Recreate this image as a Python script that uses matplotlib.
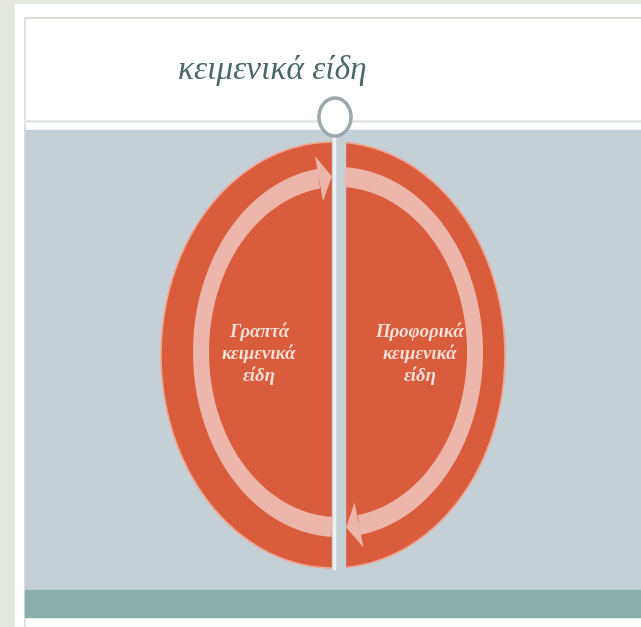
import matplotlib

matplotlib.use("Agg")
import matplotlib.pyplot as plt
import numpy as np
from matplotlib.patches import Ellipse, Polygon, Rectangle

# ── content ──────────────────────────────────────────────────────────────────
title = "κειμενικά είδη"
categories = ["Γραπτά\nκειμενικά\nείδη", "Προφορικά\nκειμενικά\nείδη"]

# ── colours ──────────────────────────────────────────────────────────────────
_PAGE = "#e4e8df"
_PANEL = "#c5d0d6"
_BAND = "#8aafab"
_RED = "#d95d3d"
_RING = "#ecb6aa"
_TITLE = "#4a6868"
_LABEL = "#f7e2da"

W, H = 641, 627
fig = plt.figure(figsize=(W / 100, H / 100), dpi=100)
ax = fig.add_axes([0, 0, 1, 1])
ax.set_xlim(0, W)
ax.set_ylim(H, 0)
ax.axis("off")
fig.patch.set_facecolor(_PAGE)

# slide frame
ax.add_patch(Rectangle((15, 4), W - 15, H - 4, color="white", zorder=0))
ax.plot([25, W], [18, 18], color="#d9ddd8", lw=1.5, zorder=1)
ax.plot([25, 25], [18, H], color="#dfe2dd", lw=1.5, zorder=1)
ax.plot([25, W], [121, 121], color="#e2e6e6", lw=2, zorder=1)
ax.add_patch(Rectangle((25, 130), W - 25, 460, color=_PANEL, zorder=1))
ax.add_patch(Rectangle((25, 590), W - 25, 27, color=_BAND, zorder=1))

ax.text(272, 71, title, fontsize=24, style="italic", color=_TITLE,
        family=["Liberation Serif", "DejaVu Serif"], ha="center", va="center", zorder=5)

# main disc split by a vertical gap
cx, cy = 333, 355
ax.add_patch(Ellipse((cx, cy), 344, 426, facecolor=_RED, edgecolor="#efa58f",
                     lw=1.2, zorder=2))
ax.add_patch(Rectangle((332, 130), 13, 450, color=_PANEL, zorder=3))
ax.plot([334, 334], [136, 568], color="#eef0f0", lw=2.5, zorder=3)

# cycle ring
rx, ry = 338, 352
ao, bo, ai, bi = 145, 185, 129, 165
am, bm = (ao + ai) / 2, (bo + bi) / 2


def band(t1, t2):
    t = np.radians(np.linspace(t1, t2, 120))
    outer = np.c_[rx + ao * np.cos(t), ry - bo * np.sin(t)]
    inner = np.c_[rx + ai * np.cos(t), ry - bi * np.sin(t)][::-1]
    return np.vstack([outer, inner])


def head(t, direction, half=23, length=13):
    tr = np.radians(t)
    p = np.array([rx + am * np.cos(tr), ry - bm * np.sin(tr)])
    d = np.array([-am * np.sin(tr), -bm * np.cos(tr)]) * direction
    d /= np.linalg.norm(d)
    n = np.array([-d[1], d[0]])
    return np.array([p + n * half, p + d * length, p - n * half])


def theta_at(x, lo, hi):
    c = (x - rx) / am
    base = np.degrees(np.arccos(np.clip(c, -1, 1)))
    for t in (base, -base, 360 - base, base - 360):
        if lo <= t <= hi:
            return t
    return base


# left arc: bottom -> left -> top, arrow at top pointing right
t_top_l = theta_at(319, 90, 180)
t_bot_l = theta_at(332, 180, 270)
ax.add_patch(Polygon(band(t_top_l, t_bot_l), color=_RING, zorder=4, lw=0))
ax.add_patch(Polygon(head(t_top_l, -1), color=_RING, zorder=4, lw=0))

# right arc: top -> right -> bottom, arrow at bottom pointing left
t_top_r = theta_at(345, 0, 90)
t_bot_r = theta_at(359, -90, 0)
ax.add_patch(Polygon(band(t_bot_r, t_top_r), color=_RING, zorder=4, lw=0))
ax.add_patch(Polygon(head(t_bot_r, -1), color=_RING, zorder=4, lw=0))

# small connector circle
ax.add_patch(Ellipse((335, 117), 32, 38, facecolor="white", edgecolor="#9ca8ab",
                     lw=2.5, zorder=6))

for x, label in zip([259, 420], categories):
    ax.text(x, 354, label, fontsize=13.5, style="italic", weight="bold", color=_LABEL,
            family=["Liberation Serif", "DejaVu Serif"], ha="center", va="center",
            linespacing=1.25, zorder=5)

fig.savefig("out.png", dpi=100, facecolor=fig.get_facecolor())
plt.close(fig)
